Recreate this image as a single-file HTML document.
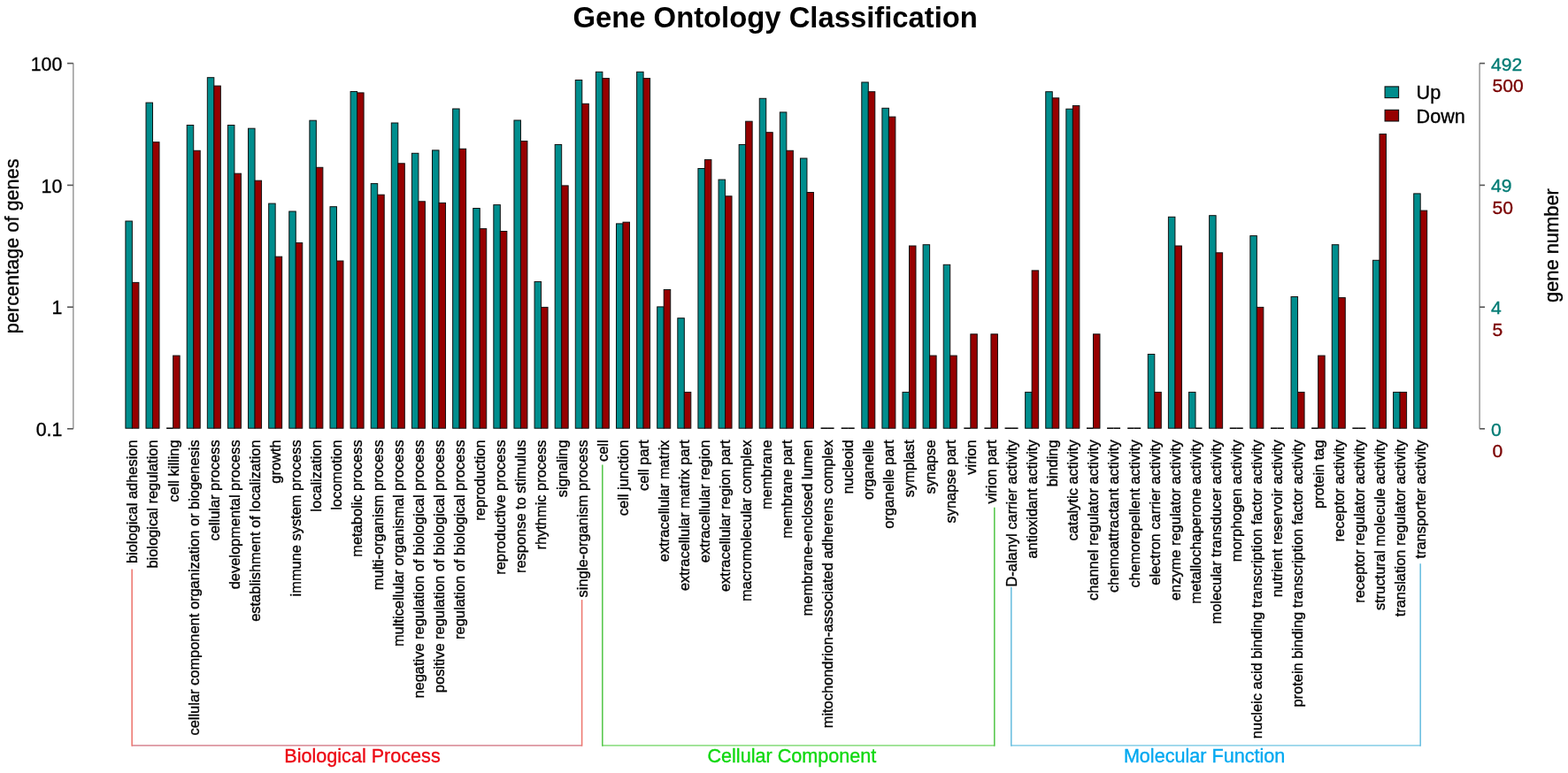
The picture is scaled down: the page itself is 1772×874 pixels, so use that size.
<!DOCTYPE html><html><head><meta charset="utf-8"><style>html,body{margin:0;padding:0;background:#fff;}svg{display:block}text{stroke:#000;stroke-width:0.35px}text.t{stroke:none}</style></head><body><svg width="1772" height="874" viewBox="0 0 1772 874" font-family="Liberation Sans, Arial, Helvetica, sans-serif">
<rect width="1772" height="874" fill="#fff"/>
<text class="t" x="876.2" y="30.7" font-size="32.8" font-weight="bold" text-anchor="middle" fill="#000">Gene Ontology Classification</text>
<rect x="141.90" y="250.00" width="7.50" height="234.20" fill="#008d8d" stroke="#111" stroke-width="1"/>
<rect x="149.40" y="319.40" width="7.50" height="164.80" fill="#960000" stroke="#111" stroke-width="1"/>
<rect x="165.01" y="116.10" width="7.50" height="368.10" fill="#008d8d" stroke="#111" stroke-width="1"/>
<rect x="172.51" y="160.70" width="7.50" height="323.50" fill="#960000" stroke="#111" stroke-width="1"/>
<line x1="188.12" y1="484.20" x2="195.62" y2="484.20" stroke="#111" stroke-width="1.6"/>
<rect x="195.62" y="402.10" width="7.50" height="82.10" fill="#960000" stroke="#111" stroke-width="1"/>
<rect x="211.22" y="141.50" width="7.50" height="342.70" fill="#008d8d" stroke="#111" stroke-width="1"/>
<rect x="218.72" y="170.30" width="7.50" height="313.90" fill="#960000" stroke="#111" stroke-width="1"/>
<rect x="234.33" y="87.70" width="7.50" height="396.50" fill="#008d8d" stroke="#111" stroke-width="1"/>
<rect x="241.83" y="97.10" width="7.50" height="387.10" fill="#960000" stroke="#111" stroke-width="1"/>
<rect x="257.44" y="141.50" width="7.50" height="342.70" fill="#008d8d" stroke="#111" stroke-width="1"/>
<rect x="264.94" y="196.20" width="7.50" height="288.00" fill="#960000" stroke="#111" stroke-width="1"/>
<rect x="280.55" y="145.20" width="7.50" height="339.00" fill="#008d8d" stroke="#111" stroke-width="1"/>
<rect x="288.05" y="204.20" width="7.50" height="280.00" fill="#960000" stroke="#111" stroke-width="1"/>
<rect x="303.66" y="230.10" width="7.50" height="254.10" fill="#008d8d" stroke="#111" stroke-width="1"/>
<rect x="311.16" y="290.20" width="7.50" height="194.00" fill="#960000" stroke="#111" stroke-width="1"/>
<rect x="326.76" y="239.00" width="7.50" height="245.20" fill="#008d8d" stroke="#111" stroke-width="1"/>
<rect x="334.26" y="274.60" width="7.50" height="209.60" fill="#960000" stroke="#111" stroke-width="1"/>
<rect x="349.87" y="136.20" width="7.50" height="348.00" fill="#008d8d" stroke="#111" stroke-width="1"/>
<rect x="357.37" y="189.30" width="7.50" height="294.90" fill="#960000" stroke="#111" stroke-width="1"/>
<rect x="372.98" y="233.70" width="7.50" height="250.50" fill="#008d8d" stroke="#111" stroke-width="1"/>
<rect x="380.48" y="295.00" width="7.50" height="189.20" fill="#960000" stroke="#111" stroke-width="1"/>
<rect x="396.09" y="103.50" width="7.50" height="380.70" fill="#008d8d" stroke="#111" stroke-width="1"/>
<rect x="403.59" y="104.90" width="7.50" height="379.30" fill="#960000" stroke="#111" stroke-width="1"/>
<rect x="419.20" y="207.60" width="7.50" height="276.60" fill="#008d8d" stroke="#111" stroke-width="1"/>
<rect x="426.70" y="220.20" width="7.50" height="264.00" fill="#960000" stroke="#111" stroke-width="1"/>
<rect x="442.30" y="139.00" width="7.50" height="345.20" fill="#008d8d" stroke="#111" stroke-width="1"/>
<rect x="449.80" y="184.80" width="7.50" height="299.40" fill="#960000" stroke="#111" stroke-width="1"/>
<rect x="465.41" y="173.30" width="7.50" height="310.90" fill="#008d8d" stroke="#111" stroke-width="1"/>
<rect x="472.91" y="227.80" width="7.50" height="256.40" fill="#960000" stroke="#111" stroke-width="1"/>
<rect x="488.52" y="169.90" width="7.50" height="314.30" fill="#008d8d" stroke="#111" stroke-width="1"/>
<rect x="496.02" y="229.40" width="7.50" height="254.80" fill="#960000" stroke="#111" stroke-width="1"/>
<rect x="511.63" y="123.00" width="7.50" height="361.20" fill="#008d8d" stroke="#111" stroke-width="1"/>
<rect x="519.13" y="168.30" width="7.50" height="315.90" fill="#960000" stroke="#111" stroke-width="1"/>
<rect x="534.74" y="235.50" width="7.50" height="248.70" fill="#008d8d" stroke="#111" stroke-width="1"/>
<rect x="542.24" y="258.60" width="7.50" height="225.60" fill="#960000" stroke="#111" stroke-width="1"/>
<rect x="557.84" y="231.60" width="7.50" height="252.60" fill="#008d8d" stroke="#111" stroke-width="1"/>
<rect x="565.34" y="261.50" width="7.50" height="222.70" fill="#960000" stroke="#111" stroke-width="1"/>
<rect x="580.95" y="136.00" width="7.50" height="348.20" fill="#008d8d" stroke="#111" stroke-width="1"/>
<rect x="588.45" y="159.60" width="7.50" height="324.60" fill="#960000" stroke="#111" stroke-width="1"/>
<rect x="604.06" y="318.50" width="7.50" height="165.70" fill="#008d8d" stroke="#111" stroke-width="1"/>
<rect x="611.56" y="347.40" width="7.50" height="136.80" fill="#960000" stroke="#111" stroke-width="1"/>
<rect x="627.17" y="163.50" width="7.50" height="320.70" fill="#008d8d" stroke="#111" stroke-width="1"/>
<rect x="634.67" y="209.90" width="7.50" height="274.30" fill="#960000" stroke="#111" stroke-width="1"/>
<rect x="650.28" y="90.50" width="7.50" height="393.70" fill="#008d8d" stroke="#111" stroke-width="1"/>
<rect x="657.78" y="117.30" width="7.50" height="366.90" fill="#960000" stroke="#111" stroke-width="1"/>
<rect x="673.38" y="81.30" width="7.50" height="402.90" fill="#008d8d" stroke="#111" stroke-width="1"/>
<rect x="680.88" y="88.60" width="7.50" height="395.60" fill="#960000" stroke="#111" stroke-width="1"/>
<rect x="696.49" y="252.90" width="7.50" height="231.30" fill="#008d8d" stroke="#111" stroke-width="1"/>
<rect x="703.99" y="251.20" width="7.50" height="233.00" fill="#960000" stroke="#111" stroke-width="1"/>
<rect x="719.60" y="81.30" width="7.50" height="402.90" fill="#008d8d" stroke="#111" stroke-width="1"/>
<rect x="727.10" y="88.60" width="7.50" height="395.60" fill="#960000" stroke="#111" stroke-width="1"/>
<rect x="742.71" y="346.90" width="7.50" height="137.30" fill="#008d8d" stroke="#111" stroke-width="1"/>
<rect x="750.21" y="327.50" width="7.50" height="156.70" fill="#960000" stroke="#111" stroke-width="1"/>
<rect x="765.82" y="359.70" width="7.50" height="124.50" fill="#008d8d" stroke="#111" stroke-width="1"/>
<rect x="773.32" y="443.40" width="7.50" height="40.80" fill="#960000" stroke="#111" stroke-width="1"/>
<rect x="788.92" y="190.50" width="7.50" height="293.70" fill="#008d8d" stroke="#111" stroke-width="1"/>
<rect x="796.42" y="180.60" width="7.50" height="303.60" fill="#960000" stroke="#111" stroke-width="1"/>
<rect x="812.03" y="203.10" width="7.50" height="281.10" fill="#008d8d" stroke="#111" stroke-width="1"/>
<rect x="819.53" y="221.80" width="7.50" height="262.40" fill="#960000" stroke="#111" stroke-width="1"/>
<rect x="835.14" y="163.50" width="7.50" height="320.70" fill="#008d8d" stroke="#111" stroke-width="1"/>
<rect x="842.64" y="137.20" width="7.50" height="347.00" fill="#960000" stroke="#111" stroke-width="1"/>
<rect x="858.25" y="111.30" width="7.50" height="372.90" fill="#008d8d" stroke="#111" stroke-width="1"/>
<rect x="865.75" y="149.70" width="7.50" height="334.50" fill="#960000" stroke="#111" stroke-width="1"/>
<rect x="881.36" y="126.90" width="7.50" height="357.30" fill="#008d8d" stroke="#111" stroke-width="1"/>
<rect x="888.86" y="170.30" width="7.50" height="313.90" fill="#960000" stroke="#111" stroke-width="1"/>
<rect x="904.46" y="179.00" width="7.50" height="305.20" fill="#008d8d" stroke="#111" stroke-width="1"/>
<rect x="911.96" y="217.50" width="7.50" height="266.70" fill="#960000" stroke="#111" stroke-width="1"/>
<line x1="927.57" y1="484.20" x2="935.07" y2="484.20" stroke="#111" stroke-width="1.6"/>
<line x1="935.07" y1="484.20" x2="942.57" y2="484.20" stroke="#111" stroke-width="1.6"/>
<line x1="950.68" y1="484.20" x2="958.18" y2="484.20" stroke="#111" stroke-width="1.6"/>
<line x1="958.18" y1="484.20" x2="965.68" y2="484.20" stroke="#111" stroke-width="1.6"/>
<rect x="973.79" y="93.00" width="7.50" height="391.20" fill="#008d8d" stroke="#111" stroke-width="1"/>
<rect x="981.29" y="103.70" width="7.50" height="380.50" fill="#960000" stroke="#111" stroke-width="1"/>
<rect x="996.90" y="122.30" width="7.50" height="361.90" fill="#008d8d" stroke="#111" stroke-width="1"/>
<rect x="1004.40" y="132.10" width="7.50" height="352.10" fill="#960000" stroke="#111" stroke-width="1"/>
<rect x="1020.00" y="443.40" width="7.50" height="40.80" fill="#008d8d" stroke="#111" stroke-width="1"/>
<rect x="1027.50" y="278.00" width="7.50" height="206.20" fill="#960000" stroke="#111" stroke-width="1"/>
<rect x="1043.11" y="276.70" width="7.50" height="207.50" fill="#008d8d" stroke="#111" stroke-width="1"/>
<rect x="1050.61" y="402.10" width="7.50" height="82.10" fill="#960000" stroke="#111" stroke-width="1"/>
<rect x="1066.22" y="299.30" width="7.50" height="184.90" fill="#008d8d" stroke="#111" stroke-width="1"/>
<rect x="1073.72" y="402.10" width="7.50" height="82.10" fill="#960000" stroke="#111" stroke-width="1"/>
<line x1="1089.33" y1="484.20" x2="1096.83" y2="484.20" stroke="#111" stroke-width="1.6"/>
<rect x="1096.83" y="377.80" width="7.50" height="106.40" fill="#960000" stroke="#111" stroke-width="1"/>
<line x1="1112.44" y1="484.20" x2="1119.94" y2="484.20" stroke="#111" stroke-width="1.6"/>
<rect x="1119.94" y="377.80" width="7.50" height="106.40" fill="#960000" stroke="#111" stroke-width="1"/>
<line x1="1135.54" y1="484.20" x2="1143.04" y2="484.20" stroke="#111" stroke-width="1.6"/>
<line x1="1143.04" y1="484.20" x2="1150.54" y2="484.20" stroke="#111" stroke-width="1.6"/>
<rect x="1158.65" y="443.40" width="7.50" height="40.80" fill="#008d8d" stroke="#111" stroke-width="1"/>
<rect x="1166.15" y="305.90" width="7.50" height="178.30" fill="#960000" stroke="#111" stroke-width="1"/>
<rect x="1181.76" y="103.70" width="7.50" height="380.50" fill="#008d8d" stroke="#111" stroke-width="1"/>
<rect x="1189.26" y="110.80" width="7.50" height="373.40" fill="#960000" stroke="#111" stroke-width="1"/>
<rect x="1204.87" y="123.20" width="7.50" height="361.00" fill="#008d8d" stroke="#111" stroke-width="1"/>
<rect x="1212.37" y="119.50" width="7.50" height="364.70" fill="#960000" stroke="#111" stroke-width="1"/>
<line x1="1227.98" y1="484.20" x2="1235.48" y2="484.20" stroke="#111" stroke-width="1.6"/>
<rect x="1235.48" y="377.80" width="7.50" height="106.40" fill="#960000" stroke="#111" stroke-width="1"/>
<line x1="1251.08" y1="484.20" x2="1258.58" y2="484.20" stroke="#111" stroke-width="1.6"/>
<line x1="1258.58" y1="484.20" x2="1266.08" y2="484.20" stroke="#111" stroke-width="1.6"/>
<line x1="1274.19" y1="484.20" x2="1281.69" y2="484.20" stroke="#111" stroke-width="1.6"/>
<line x1="1281.69" y1="484.20" x2="1289.19" y2="484.20" stroke="#111" stroke-width="1.6"/>
<rect x="1297.30" y="400.50" width="7.50" height="83.70" fill="#008d8d" stroke="#111" stroke-width="1"/>
<rect x="1304.80" y="443.40" width="7.50" height="40.80" fill="#960000" stroke="#111" stroke-width="1"/>
<rect x="1320.41" y="245.30" width="7.50" height="238.90" fill="#008d8d" stroke="#111" stroke-width="1"/>
<rect x="1327.91" y="278.00" width="7.50" height="206.20" fill="#960000" stroke="#111" stroke-width="1"/>
<rect x="1343.52" y="443.40" width="7.50" height="40.80" fill="#008d8d" stroke="#111" stroke-width="1"/>
<line x1="1351.02" y1="484.20" x2="1358.52" y2="484.20" stroke="#111" stroke-width="1.6"/>
<rect x="1366.62" y="243.70" width="7.50" height="240.50" fill="#008d8d" stroke="#111" stroke-width="1"/>
<rect x="1374.12" y="285.80" width="7.50" height="198.40" fill="#960000" stroke="#111" stroke-width="1"/>
<line x1="1389.73" y1="484.20" x2="1397.23" y2="484.20" stroke="#111" stroke-width="1.6"/>
<line x1="1397.23" y1="484.20" x2="1404.73" y2="484.20" stroke="#111" stroke-width="1.6"/>
<rect x="1412.84" y="266.60" width="7.50" height="217.60" fill="#008d8d" stroke="#111" stroke-width="1"/>
<rect x="1420.34" y="347.40" width="7.50" height="136.80" fill="#960000" stroke="#111" stroke-width="1"/>
<line x1="1435.95" y1="484.20" x2="1443.45" y2="484.20" stroke="#111" stroke-width="1.6"/>
<line x1="1443.45" y1="484.20" x2="1450.95" y2="484.20" stroke="#111" stroke-width="1.6"/>
<rect x="1459.06" y="335.50" width="7.50" height="148.70" fill="#008d8d" stroke="#111" stroke-width="1"/>
<rect x="1466.56" y="443.40" width="7.50" height="40.80" fill="#960000" stroke="#111" stroke-width="1"/>
<line x1="1482.16" y1="484.20" x2="1489.66" y2="484.20" stroke="#111" stroke-width="1.6"/>
<rect x="1489.66" y="402.10" width="7.50" height="82.10" fill="#960000" stroke="#111" stroke-width="1"/>
<rect x="1505.27" y="276.70" width="7.50" height="207.50" fill="#008d8d" stroke="#111" stroke-width="1"/>
<rect x="1512.77" y="336.60" width="7.50" height="147.60" fill="#960000" stroke="#111" stroke-width="1"/>
<line x1="1528.38" y1="484.20" x2="1535.88" y2="484.20" stroke="#111" stroke-width="1.6"/>
<line x1="1535.88" y1="484.20" x2="1543.38" y2="484.20" stroke="#111" stroke-width="1.6"/>
<rect x="1551.49" y="294.30" width="7.50" height="189.90" fill="#008d8d" stroke="#111" stroke-width="1"/>
<rect x="1558.99" y="151.60" width="7.50" height="332.60" fill="#960000" stroke="#111" stroke-width="1"/>
<rect x="1574.60" y="443.40" width="7.50" height="40.80" fill="#008d8d" stroke="#111" stroke-width="1"/>
<rect x="1582.10" y="443.40" width="7.50" height="40.80" fill="#960000" stroke="#111" stroke-width="1"/>
<rect x="1597.70" y="218.90" width="7.50" height="265.30" fill="#008d8d" stroke="#111" stroke-width="1"/>
<rect x="1605.20" y="238.10" width="7.50" height="246.10" fill="#960000" stroke="#111" stroke-width="1"/>
<text transform="translate(155.30,497.4) rotate(-90)" font-size="16.43" text-anchor="end">biological adhesion</text>
<text transform="translate(178.41,497.4) rotate(-90)" font-size="16.43" text-anchor="end">biological regulation</text>
<text transform="translate(201.52,497.4) rotate(-90)" font-size="16.43" text-anchor="end">cell killing</text>
<text transform="translate(224.62,497.4) rotate(-90)" font-size="16.43" text-anchor="end">cellular component organization or biogenesis</text>
<text transform="translate(247.73,497.4) rotate(-90)" font-size="16.43" text-anchor="end">cellular process</text>
<text transform="translate(270.84,497.4) rotate(-90)" font-size="16.43" text-anchor="end">developmental process</text>
<text transform="translate(293.95,497.4) rotate(-90)" font-size="16.43" text-anchor="end">establishment of localization</text>
<text transform="translate(317.06,497.4) rotate(-90)" font-size="16.43" text-anchor="end">growth</text>
<text transform="translate(340.16,497.4) rotate(-90)" font-size="16.43" text-anchor="end">immune system process</text>
<text transform="translate(363.27,497.4) rotate(-90)" font-size="16.43" text-anchor="end">localization</text>
<text transform="translate(386.38,497.4) rotate(-90)" font-size="16.43" text-anchor="end">locomotion</text>
<text transform="translate(409.49,497.4) rotate(-90)" font-size="16.43" text-anchor="end">metabolic process</text>
<text transform="translate(432.60,497.4) rotate(-90)" font-size="16.43" text-anchor="end">multi-organism process</text>
<text transform="translate(455.70,497.4) rotate(-90)" font-size="16.43" text-anchor="end">multicellular organismal process</text>
<text transform="translate(478.81,497.4) rotate(-90)" font-size="16.43" text-anchor="end">negative regulation of biological process</text>
<text transform="translate(501.92,497.4) rotate(-90)" font-size="16.43" text-anchor="end">positive regulation of biological process</text>
<text transform="translate(525.03,497.4) rotate(-90)" font-size="16.43" text-anchor="end">regulation of biological process</text>
<text transform="translate(548.14,497.4) rotate(-90)" font-size="16.43" text-anchor="end">reproduction</text>
<text transform="translate(571.24,497.4) rotate(-90)" font-size="16.43" text-anchor="end">reproductive process</text>
<text transform="translate(594.35,497.4) rotate(-90)" font-size="16.43" text-anchor="end">response to stimulus</text>
<text transform="translate(617.46,497.4) rotate(-90)" font-size="16.43" text-anchor="end">rhythmic process</text>
<text transform="translate(640.57,497.4) rotate(-90)" font-size="16.43" text-anchor="end">signaling</text>
<text transform="translate(663.68,497.4) rotate(-90)" font-size="16.43" text-anchor="end">single-organism process</text>
<text transform="translate(686.78,497.4) rotate(-90)" font-size="16.43" text-anchor="end">cell</text>
<text transform="translate(709.89,497.4) rotate(-90)" font-size="16.43" text-anchor="end">cell junction</text>
<text transform="translate(733.00,497.4) rotate(-90)" font-size="16.43" text-anchor="end">cell part</text>
<text transform="translate(756.11,497.4) rotate(-90)" font-size="16.43" text-anchor="end">extracellular matrix</text>
<text transform="translate(779.22,497.4) rotate(-90)" font-size="16.43" text-anchor="end">extracellular matrix part</text>
<text transform="translate(802.32,497.4) rotate(-90)" font-size="16.43" text-anchor="end">extracellular region</text>
<text transform="translate(825.43,497.4) rotate(-90)" font-size="16.43" text-anchor="end">extracellular region part</text>
<text transform="translate(848.54,497.4) rotate(-90)" font-size="16.43" text-anchor="end">macromolecular complex</text>
<text transform="translate(871.65,497.4) rotate(-90)" font-size="16.43" text-anchor="end">membrane</text>
<text transform="translate(894.76,497.4) rotate(-90)" font-size="16.43" text-anchor="end">membrane part</text>
<text transform="translate(917.86,497.4) rotate(-90)" font-size="16.43" text-anchor="end">membrane-enclosed lumen</text>
<text transform="translate(940.97,497.4) rotate(-90)" font-size="16.43" text-anchor="end">mitochondrion-associated adherens complex</text>
<text transform="translate(964.08,497.4) rotate(-90)" font-size="16.43" text-anchor="end">nucleoid</text>
<text transform="translate(987.19,497.4) rotate(-90)" font-size="16.43" text-anchor="end">organelle</text>
<text transform="translate(1010.30,497.4) rotate(-90)" font-size="16.43" text-anchor="end">organelle part</text>
<text transform="translate(1033.40,497.4) rotate(-90)" font-size="16.43" text-anchor="end">symplast</text>
<text transform="translate(1056.51,497.4) rotate(-90)" font-size="16.43" text-anchor="end">synapse</text>
<text transform="translate(1079.62,497.4) rotate(-90)" font-size="16.43" text-anchor="end">synapse part</text>
<text transform="translate(1102.73,497.4) rotate(-90)" font-size="16.43" text-anchor="end">virion</text>
<text transform="translate(1125.84,497.4) rotate(-90)" font-size="16.43" text-anchor="end">virion part</text>
<text transform="translate(1148.94,497.4) rotate(-90)" font-size="16.43" text-anchor="end">D-alanyl carrier activity</text>
<text transform="translate(1172.05,497.4) rotate(-90)" font-size="16.43" text-anchor="end">antioxidant activity</text>
<text transform="translate(1195.16,497.4) rotate(-90)" font-size="16.43" text-anchor="end">binding</text>
<text transform="translate(1218.27,497.4) rotate(-90)" font-size="16.43" text-anchor="end">catalytic activity</text>
<text transform="translate(1241.38,497.4) rotate(-90)" font-size="16.43" text-anchor="end">channel regulator activity</text>
<text transform="translate(1264.48,497.4) rotate(-90)" font-size="16.43" text-anchor="end">chemoattractant activity</text>
<text transform="translate(1287.59,497.4) rotate(-90)" font-size="16.43" text-anchor="end">chemorepellent activity</text>
<text transform="translate(1310.70,497.4) rotate(-90)" font-size="16.43" text-anchor="end">electron carrier activity</text>
<text transform="translate(1333.81,497.4) rotate(-90)" font-size="16.43" text-anchor="end">enzyme regulator activity</text>
<text transform="translate(1356.92,497.4) rotate(-90)" font-size="16.43" text-anchor="end">metallochaperone activity</text>
<text transform="translate(1380.02,497.4) rotate(-90)" font-size="16.43" text-anchor="end">molecular transducer activity</text>
<text transform="translate(1403.13,497.4) rotate(-90)" font-size="16.43" text-anchor="end">morphogen activity</text>
<text transform="translate(1426.24,497.4) rotate(-90)" font-size="16.43" text-anchor="end">nucleic acid binding transcription factor activity</text>
<text transform="translate(1449.35,497.4) rotate(-90)" font-size="16.43" text-anchor="end">nutrient reservoir activity</text>
<text transform="translate(1472.46,497.4) rotate(-90)" font-size="16.43" text-anchor="end">protein binding transcription factor activity</text>
<text transform="translate(1495.56,497.4) rotate(-90)" font-size="16.43" text-anchor="end">protein tag</text>
<text transform="translate(1518.67,497.4) rotate(-90)" font-size="16.43" text-anchor="end">receptor activity</text>
<text transform="translate(1541.78,497.4) rotate(-90)" font-size="16.43" text-anchor="end">receptor regulator activity</text>
<text transform="translate(1564.89,497.4) rotate(-90)" font-size="16.43" text-anchor="end">structural molecule activity</text>
<text transform="translate(1588.00,497.4) rotate(-90)" font-size="16.43" text-anchor="end">translation regulator activity</text>
<text transform="translate(1611.10,497.4) rotate(-90)" font-size="16.43" text-anchor="end">transporter activity</text>
<line x1="82.8" y1="71.5" x2="82.8" y2="484.8" stroke="#999" stroke-width="1.5"/>
<line x1="76" y1="71.6" x2="82.8" y2="71.6" stroke="#555" stroke-width="1.6"/>
<text x="70.3" y="79.8" font-size="21.3" text-anchor="end">100</text>
<line x1="76" y1="209.4" x2="82.8" y2="209.4" stroke="#555" stroke-width="1.6"/>
<text x="70.3" y="217.6" font-size="21.3" text-anchor="end">10</text>
<line x1="76" y1="347.2" x2="82.8" y2="347.2" stroke="#555" stroke-width="1.6"/>
<text x="70.3" y="355.4" font-size="21.3" text-anchor="end">1</text>
<line x1="76" y1="484.8" x2="82.8" y2="484.8" stroke="#555" stroke-width="1.6"/>
<text x="70.3" y="493.0" font-size="21.3" text-anchor="end">0.1</text>
<text transform="translate(20.6,278.3) rotate(-90)" font-size="21.7" text-anchor="middle">percentage of genes</text>
<line x1="1672.1" y1="71.5" x2="1672.1" y2="484.8" stroke="#999" stroke-width="1.5"/>
<line x1="1672.1" y1="71.6" x2="1678" y2="71.6" stroke="#555" stroke-width="1.6"/>
<text x="1685.0" y="79.6" font-size="21.1" fill="#007b74" style="stroke:#007b74">492</text>
<text x="1686.6" y="104.1" font-size="21.1" fill="#7a0000" style="stroke:#7a0000">500</text>
<line x1="1672.1" y1="209.4" x2="1678" y2="209.4" stroke="#555" stroke-width="1.6"/>
<text x="1685.0" y="217.4" font-size="21.1" fill="#007b74" style="stroke:#007b74">49</text>
<text x="1686.6" y="241.9" font-size="21.1" fill="#7a0000" style="stroke:#7a0000">50</text>
<line x1="1672.1" y1="347.2" x2="1678" y2="347.2" stroke="#555" stroke-width="1.6"/>
<text x="1685.0" y="355.2" font-size="21.1" fill="#007b74" style="stroke:#007b74">4</text>
<text x="1686.6" y="379.7" font-size="21.1" fill="#7a0000" style="stroke:#7a0000">5</text>
<line x1="1672.1" y1="484.8" x2="1678" y2="484.8" stroke="#555" stroke-width="1.6"/>
<text x="1685.0" y="492.8" font-size="21.1" fill="#007b74" style="stroke:#007b74">0</text>
<text x="1686.6" y="517.3" font-size="21.1" fill="#7a0000" style="stroke:#7a0000">0</text>
<text transform="translate(1760.9,277.6) rotate(-90)" font-size="21.9" text-anchor="middle">gene number</text>
<rect x="1565.1" y="97.9" width="15.5" height="12.7" fill="#008d8d" stroke="#111" stroke-width="1.1"/>
<rect x="1565.1" y="124.3" width="15.5" height="12.7" fill="#960000" stroke="#111" stroke-width="1.1"/>
<text x="1600.6" y="112.1" font-size="21.6">Up</text>
<text x="1600.6" y="138.6" font-size="21.6">Down</text>
<line x1="149.15" y1="842.9" x2="657.6" y2="842.9" stroke="#dc96a0" stroke-width="1.7"/>
<line x1="149.15" y1="643.5" x2="149.15" y2="843.6999999999999" stroke="#ee7a72" stroke-width="1.6"/>
<line x1="657.6" y1="678.1" x2="657.6" y2="843.6999999999999" stroke="#ee7a72" stroke-width="1.6"/>
<text x="409.5" y="862.1" font-size="21.6" text-anchor="middle" fill="#ec0a14" style="stroke:#ec0a14">Biological Process</text>
<line x1="680.8" y1="842.9" x2="1123.8" y2="842.9" stroke="#96e08c" stroke-width="1.7"/>
<line x1="680.8" y1="525.6" x2="680.8" y2="843.6999999999999" stroke="#5ac850" stroke-width="1.6"/>
<line x1="1123.8" y1="573.7" x2="1123.8" y2="843.6999999999999" stroke="#5ac850" stroke-width="1.6"/>
<text x="894.9" y="862.1" font-size="21.6" text-anchor="middle" fill="#10d810" style="stroke:#10d810">Cellular Component</text>
<line x1="1142.8" y1="842.9" x2="1605.2" y2="842.9" stroke="#96d4ea" stroke-width="1.7"/>
<line x1="1142.8" y1="663.7" x2="1142.8" y2="843.6999999999999" stroke="#6ec0e0" stroke-width="1.6"/>
<line x1="1605.2" y1="637.2" x2="1605.2" y2="843.6999999999999" stroke="#6ec0e0" stroke-width="1.6"/>
<text x="1361.1" y="862.1" font-size="21.6" text-anchor="middle" fill="#00a8f0" style="stroke:#00a8f0">Molecular Function</text>
</svg></body></html>
